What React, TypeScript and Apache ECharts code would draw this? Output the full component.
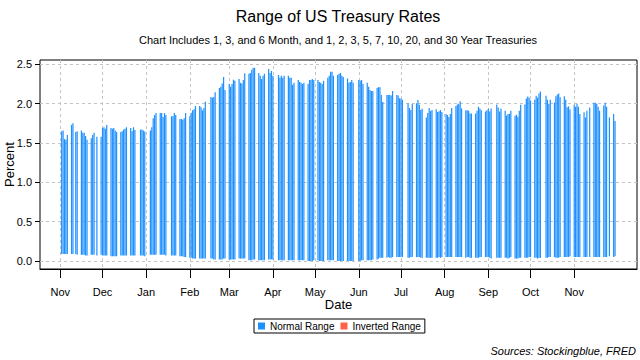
import React, { useEffect, useRef } from "react";
import * as echarts from "echarts";

// Monday of each trading week (Mon..Fri values below, null = market closed / no data)
const weekStarts: string[] = [
  "2020-11-02", "2020-11-09", "2020-11-16", "2020-11-23", "2020-11-30",
  "2020-12-07", "2020-12-14", "2020-12-21", "2020-12-28",
  "2021-01-04", "2021-01-11", "2021-01-18", "2021-01-25",
  "2021-02-01", "2021-02-08", "2021-02-15", "2021-02-22",
  "2021-03-01", "2021-03-08", "2021-03-15", "2021-03-22", "2021-03-29",
  "2021-04-05", "2021-04-12", "2021-04-19", "2021-04-26",
  "2021-05-03", "2021-05-10", "2021-05-17", "2021-05-24", "2021-05-31",
  "2021-06-07", "2021-06-14", "2021-06-21", "2021-06-28",
  "2021-07-05", "2021-07-12", "2021-07-19", "2021-07-26",
  "2021-08-02", "2021-08-09", "2021-08-16", "2021-08-23", "2021-08-30",
  "2021-09-06", "2021-09-13", "2021-09-20", "2021-09-27",
  "2021-10-04", "2021-10-11", "2021-10-18", "2021-10-25",
  "2021-11-01", "2021-11-08", "2021-11-15", "2021-11-22", "2021-11-29",
];

// Highest rate of the day (percent)
const highs: (number | null)[][] = [
  [1.65, 1.66, 1.55, 1.54, 1.60],
  [1.73, 1.75, null, 1.64, 1.65],
  [1.66, 1.63, 1.63, 1.59, 1.54],
  [1.56, 1.60, 1.63, null, 1.58],
  [1.58, 1.69, 1.70, 1.68, 1.73],
  [1.69, 1.68, 1.69, 1.66, 1.64],
  [1.64, 1.65, 1.67, 1.68, 1.70],
  [1.69, 1.65, 1.70, 1.665, null],
  [1.67, 1.67, 1.66, 1.645, null],
  [1.66, 1.70, 1.815, 1.855, 1.88],
  [1.88, 1.88, 1.83, 1.88, 1.855],
  [null, 1.84, 1.84, 1.88, 1.855],
  [1.805, 1.805, 1.795, 1.815, 1.88],
  [1.84, 1.885, 1.915, 1.93, 1.97],
  [1.97, 1.955, 1.915, 1.945, 2.025],
  [null, 2.085, 2.075, 2.085, 2.145],
  [2.20, 2.215, 2.255, 2.34, 2.175],
  [2.25, 2.215, 2.25, 2.305, 2.29],
  [2.315, 2.265, 2.255, 2.30, 2.385],
  [2.38, 2.39, 2.43, 2.455, 2.455],
  [2.39, 2.355, 2.315, 2.355, 2.38],
  [2.44, 2.39, 2.415, 2.355, null],
  [2.365, 2.33, 2.355, 2.33, 2.355],
  [2.355, 2.33, 2.33, 2.24, 2.265],
  [2.30, 2.275, 2.265, 2.25, 2.265],
  [2.25, 2.30, 2.30, 2.315, 2.30],
  [2.30, 2.275, 2.265, 2.25, 2.29],
  [2.33, 2.355, 2.405, 2.405, 2.355],
  [2.365, 2.38, 2.39, 2.355, 2.34],
  [2.32, 2.265, 2.275, 2.30, 2.265],
  [null, 2.30, 2.29, 2.30, 2.25],
  [2.265, 2.215, 2.175, 2.16, 2.16],
  [2.20, 2.21, 2.21, 2.11, 2.02],
  [2.11, 2.11, 2.11, 2.105, 2.16],
  [2.11, 2.105, 2.07, 2.065, 2.05],
  [null, 2.005, 1.945, 1.92, 1.995],
  [2.005, 2.045, 1.985, 1.92, 1.935],
  [1.825, 1.88, 1.945, 1.905, 1.92],
  [1.93, 1.893, 1.905, 1.918, 1.893],
  [1.868, 1.855, 1.83, 1.868, 1.945],
  [1.97, 1.99, 1.998, 2.03, 1.94],
  [1.915, 1.915, 1.91, 1.875, 1.875],
  [1.875, 1.91, 1.96, 1.94, 1.915],
  [1.90, 1.915, 1.935, 1.90, 1.94],
  [null, 1.99, 1.95, 1.90, 1.935],
  [1.91, 1.85, 1.87, 1.87, 1.91],
  [1.846, 1.86, 1.833, 1.91, 1.985],
  [1.99, 2.065, 2.09, 2.075, 2.04],
  [2.05, 2.10, 2.077, 2.13, 2.155],
  [null, 2.10, 2.05, 2.0, 2.05],
  [2.015, 2.095, 2.115, 2.13, 2.08],
  [2.095, 2.05, 1.955, 1.965, 1.925],
  [1.987, 1.96, 2.0, 1.96, 1.87],
  [1.89, 1.825, 1.91, null, 1.95],
  [2.013, 2.013, 2.0, 1.96, 1.91],
  [1.975, 2.013, 1.96, null, 1.825],
  [1.87, 1.78],
];

// Lowest rate of the day (percent)
const lows: (number | null)[][] = [
  [0.09, 0.09, 0.09, 0.09, 0.09],
  [0.09, 0.09, null, 0.09, 0.08],
  [0.08, 0.08, 0.08, 0.07, 0.07],
  [0.08, 0.08, 0.08, null, 0.07],
  [0.08, 0.07, 0.07, 0.07, 0.07],
  [0.06, 0.06, 0.06, 0.06, 0.06],
  [0.07, 0.07, 0.07, 0.07, 0.07],
  [0.07, 0.07, 0.07, 0.07, null],
  [0.07, 0.07, 0.07, 0.06, null],
  [0.08, 0.08, 0.08, 0.08, 0.08],
  [0.08, 0.08, 0.08, 0.08, 0.07],
  [null, 0.07, 0.07, 0.07, 0.07],
  [0.06, 0.06, 0.06, 0.05, 0.05],
  [0.04, 0.04, 0.03, 0.03, 0.03],
  [0.03, 0.03, 0.03, 0.03, 0.03],
  [null, 0.03, 0.03, 0.02, 0.02],
  [0.02, 0.02, 0.02, 0.03, 0.03],
  [0.02, 0.02, 0.02, 0.02, 0.02],
  [0.03, 0.03, 0.03, 0.03, 0.03],
  [0.01, 0.01, 0.01, 0.02, 0.02],
  [0.01, 0.01, 0.01, 0.01, 0.01],
  [0.02, 0.02, 0.02, 0.02, null],
  [0.01, 0.01, 0.01, 0.01, 0.01],
  [0.01, 0.01, 0.01, 0.01, 0.01],
  [0.01, 0.01, 0.01, 0.01, 0.01],
  [0.0, 0.0, 0.0, 0.0, 0.01],
  [0.01, 0.0, 0.0, 0.0, 0.0],
  [0.01, 0.01, 0.01, 0.01, 0.01],
  [0.0, 0.0, 0.0, 0.0, 0.0],
  [0.0, 0.0, 0.0, 0.0, 0.0],
  [null, 0.0, 0.0, 0.01, 0.01],
  [0.01, 0.01, 0.01, 0.01, 0.02],
  [0.02, 0.03, 0.04, 0.04, 0.04],
  [0.04, 0.05, 0.04, 0.04, 0.05],
  [0.05, 0.05, 0.05, 0.05, 0.05],
  [null, 0.04, 0.04, 0.05, 0.05],
  [0.05, 0.05, 0.05, 0.04, 0.04],
  [0.04, 0.04, 0.04, 0.04, 0.04],
  [0.04, 0.04, 0.05, 0.04, 0.05],
  [0.05, 0.05, 0.05, 0.05, 0.05],
  [0.05, 0.05, 0.05, 0.05, 0.05],
  [0.04, 0.05, 0.05, 0.04, 0.04],
  [0.04, 0.04, 0.04, 0.05, 0.05],
  [0.05, 0.05, 0.05, 0.04, 0.03],
  [null, 0.04, 0.04, 0.04, 0.04],
  [0.04, 0.04, 0.03, 0.04, 0.05],
  [0.03, 0.03, 0.03, 0.04, 0.04],
  [0.04, 0.04, 0.04, 0.05, 0.05],
  [0.04, 0.04, 0.03, 0.04, 0.04],
  [null, 0.04, 0.04, 0.05, 0.05],
  [0.05, 0.04, 0.04, 0.04, 0.05],
  [0.05, 0.05, 0.05, 0.05, 0.06],
  [0.05, 0.05, 0.05, 0.05, 0.05],
  [0.05, 0.05, 0.05, null, 0.05],
  [0.05, 0.05, 0.05, 0.05, 0.05],
  [0.05, 0.05, 0.05, null, 0.06],
  [0.05, 0.06],
];

// Axis tick positions and labels
const monthTicks: string[] = [
  "2020-11-01", "2020-12-01", "2021-01-01", "2021-02-01", "2021-03-01",
  "2021-04-01", "2021-05-01", "2021-06-01", "2021-07-01", "2021-08-01",
  "2021-09-01", "2021-10-01", "2021-11-01",
];
const monthLabels: string[] = [
  "Nov", "Dec", "Jan", "Feb", "Mar", "Apr", "May", "Jun", "Jul", "Aug", "Sep", "Oct", "Nov",
];
const yTicks: number[] = [0, 0.5, 1, 1.5, 2, 2.5];
// x axis extent, in days relative to the first month tick
const xRangeDays: number[] = [-14.4, 409.6];
const yRange: number[] = [-0.102, 2.555];

const DAY = 86400000;
const FONT = "'Liberation Sans', Arial, sans-serif";

export default function App() {
  const ref = useRef<HTMLDivElement>(null);

  useEffect(() => {
    if (!ref.current) return;
    const chart = echarts.init(ref.current, null, { renderer: "svg" });

    const origin = Date.parse(monthTicks[0]);
    const toDay = (s: string) => Math.round((Date.parse(s) - origin) / DAY);

    const normal: [number, number, number][] = [];
    const inverted: [number, number, number][] = [];
    weekStarts.forEach((ws, w) => {
      const base = toDay(ws);
      highs[w].forEach((h, d) => {
        const l = lows[w][d];
        if (h == null || l == null) return;
        const x = base + d;
        if (h >= l) normal.push([x, l, h]);
        else inverted.push([x, h, l]);
      });
    });

    const tickVals = monthTicks.map(toDay);

    const renderBar = (color: string) => (params: any, api: any) => {
      const top = api.coord([api.value(0), api.value(2)]);
      const bot = api.coord([api.value(0), api.value(1)]);
      return {
        type: "rect",
        shape: { x: top[0] - 0.6, y: top[1], width: 1.2, height: bot[1] - top[1] },
        style: { fill: color },
      };
    };

    chart.setOption({
      animation: false,
      backgroundColor: "#ffffff",
      textStyle: { fontFamily: FONT },
      title: [
        {
          text: "Range of US Treasury Rates",
          left: 338,
          top: 8,
          padding: 0,
          textAlign: "center",
          textStyle: { fontSize: 16, fontWeight: "normal", color: "#000", fontFamily: FONT },
        },
        {
          text: "Chart Includes 1, 3, and 6 Month, and 1, 2, 3, 5, 7, 10, 20, and 30 Year Treasuries",
          left: 338,
          top: 34,
          padding: 0,
          textAlign: "center",
          textStyle: { fontSize: 11, fontWeight: "normal", color: "#000", fontFamily: FONT },
        },
        {
          text: "Sources: Stockingblue, FRED",
          right: 4,
          top: 345,
          padding: 0,
          textStyle: { fontSize: 11, fontWeight: "normal", fontStyle: "italic", color: "#000", fontFamily: FONT },
        },
      ],
      legend: {
        left: 254,
        top: 319,
        orient: "horizontal",
        icon: "rect",
        itemWidth: 7,
        itemHeight: 7,
        itemGap: 6,
        padding: [2, 4, 2, 4],
        borderColor: "#000",
        borderWidth: 1,
        textStyle: { fontSize: 10, color: "#000", fontFamily: FONT },
        data: ["Normal Range", "Inverted Range"],
      },
      grid: {
        left: 40,
        right: 3,
        top: 60,
        bottom: 91,
        show: true,
        containLabel: false,
        outerBoundsMode: "none",
        borderColor: "#000",
        borderWidth: 1,
        backgroundColor: "transparent",
      },
      xAxis: {
        type: "value",
        min: xRangeDays[0],
        max: xRangeDays[1],
        name: "Date",
        nameLocation: "middle",
        nameGap: 29,
        nameMoveOverlap: false,
        nameTextStyle: { fontSize: 13, color: "#000", fontFamily: FONT },
        axisLine: { show: true, onZero: false, lineStyle: { color: "#000", width: 1 } },
        axisTick: {
          show: true,
          length: 9,
          customValues: tickVals,
          lineStyle: { color: "#000", width: 1 },
        },
        axisLabel: {
          show: true,
          customValues: tickVals,
          margin: 17,
          fontSize: 11,
          color: "#000",
          fontFamily: FONT,
          formatter: (v: number) => {
            const i = tickVals.indexOf(Math.round(v));
            return i >= 0 ? monthLabels[i] : "";
          },
        },
        splitLine: {
          show: true,
          lineStyle: { color: "#c4c4c4", type: [3, 3], width: 1 },
        },
      },
      yAxis: {
        type: "value",
        min: yRange[0],
        max: yRange[1],
        name: "Percent",
        nameLocation: "middle",
        nameGap: 24,
        nameMoveOverlap: false,
        nameTextStyle: { fontSize: 13, color: "#000", fontFamily: FONT },
        axisLine: { show: false, onZero: false },
        axisTick: {
          show: true,
          length: 5,
          customValues: yTicks,
          lineStyle: { color: "#000", width: 1 },
        },
        axisLabel: {
          show: true,
          customValues: yTicks,
          margin: 8,
          fontSize: 11,
          color: "#000",
          fontFamily: FONT,
          formatter: (v: number) => v.toFixed(1),
        },
        splitLine: {
          show: true,
          lineStyle: { color: "#c4c4c4", type: [3, 3], width: 1 },
        },
      },
      series: [
        {
          name: "Normal Range",
          type: "custom",
          itemStyle: { color: "#1E90FF" },
          encode: { x: 0, y: [1, 2] },
          renderItem: renderBar("#1E90FF"),
          data: normal,
        },
        {
          name: "Inverted Range",
          type: "custom",
          itemStyle: { color: "#FF6347" },
          encode: { x: 0, y: [1, 2] },
          renderItem: renderBar("#FF6347"),
          data: inverted,
        },
      ],
    });

    return () => chart.dispose();
  }, []);

  return (
    <div
      ref={ref}
      style={{ position: "fixed", left: 0, top: 0, width: 640, height: 360, background: "#fff" }}
    />
  );
}
